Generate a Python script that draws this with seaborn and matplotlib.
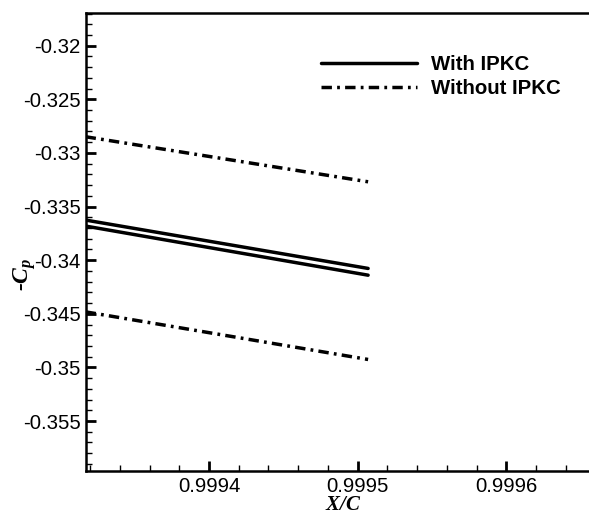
import matplotlib
matplotlib.use("Agg")
import matplotlib.pyplot as plt
from matplotlib.ticker import MultipleLocator, FuncFormatter
import pandas as pd
import seaborn as sns

# end points of each curve (straight segments)
x_pts = [0.999317, 0.999507]
with_upper = [-0.33626, -0.34077]
with_lower = [-0.33682, -0.34140]
without_upper = [-0.32849, -0.33269]
without_lower = [-0.34482, -0.34926]

cases = ["With IPKC", "With IPKC", "Without IPKC", "Without IPKC"]
branches = ["w_up", "w_lo", "wo_up", "wo_lo"]
series = [with_upper, with_lower, without_upper, without_lower]

rows = []
for case, br, vals in zip(cases, branches, series):
    for x, v in zip(x_pts, vals):
        rows.append({"x": x, "cp": v, "case": case, "branch": br})
df = pd.DataFrame(rows)

sns.set_style("ticks", {"axes.edgecolor": "black", "xtick.color": "black",
                        "ytick.color": "black", "text.color": "black",
                        "axes.labelcolor": "black"})
plt.rcParams["font.family"] = ["Liberation Sans", "DejaVu Sans"]
plt.rcParams["axes.unicode_minus"] = False
plt.rcParams["mathtext.fontset"] = "custom"
plt.rcParams["mathtext.it"] = "Liberation Serif:italic:bold"
plt.rcParams["mathtext.rm"] = "Liberation Serif:italic:bold"

fig = plt.figure(figsize=(5.89, 5.13), dpi=100)
# axes runs past the right edge of the figure, like the cropped original
ax = fig.add_axes([86 / 589, 42 / 513, 514 / 589, 458 / 513])

sns.lineplot(data=df, x="x", y="cp", style="case", units="branch",
             estimator=None, color="black", linewidth=2.5,
             dashes={"With IPKC": "", "Without IPKC": (3.0, 1.5, 0.8, 1.5)},
             ax=ax)

ax.set_xlim(0.99931728, 0.99966295)
ax.set_ylim(-0.35966, -0.31695)

ax.xaxis.set_major_locator(MultipleLocator(0.0001))
ax.xaxis.set_minor_locator(MultipleLocator(0.00002))
ax.yaxis.set_major_locator(MultipleLocator(0.005))
ax.yaxis.set_minor_locator(MultipleLocator(0.001))
fmt = FuncFormatter(lambda v, p: "%g" % round(v, 6))
ax.xaxis.set_major_formatter(fmt)
ax.yaxis.set_major_formatter(fmt)

ax.tick_params(which="major", direction="in", length=7, width=2,
               labelsize=14.7, pad=4, colors="black")
ax.tick_params(which="minor", direction="in", length=4.5, width=1,
               colors="black")
ax.tick_params(top=False, right=False)

for s in ["left", "bottom", "top"]:
    ax.spines[s].set_linewidth(1.8)
    ax.spines[s].set_color("black")
ax.spines["right"].set_visible(False)

ax.set_xlabel("")
ax.set_ylabel("")
fig.text(343 / 589, 1 - 505 / 513, "$X/C$", ha="center", va="center",
         fontsize=15)
fig.text(25 / 589, 1 - 274 / 513, "$\\text{-}C_p$", ha="center",
         va="center", rotation=90, fontsize=17)

sns.move_legend(ax, "upper left", bbox_to_anchor=(311 / 589, 1 - 45 / 513),
                bbox_transform=fig.transFigure, title=None, frameon=False,
                handlelength=4.7, handletextpad=0.7, labelspacing=0.22,
                borderpad=0, prop={"size": 14.7, "weight": "bold"})

fig.savefig("out.png", dpi=100)
